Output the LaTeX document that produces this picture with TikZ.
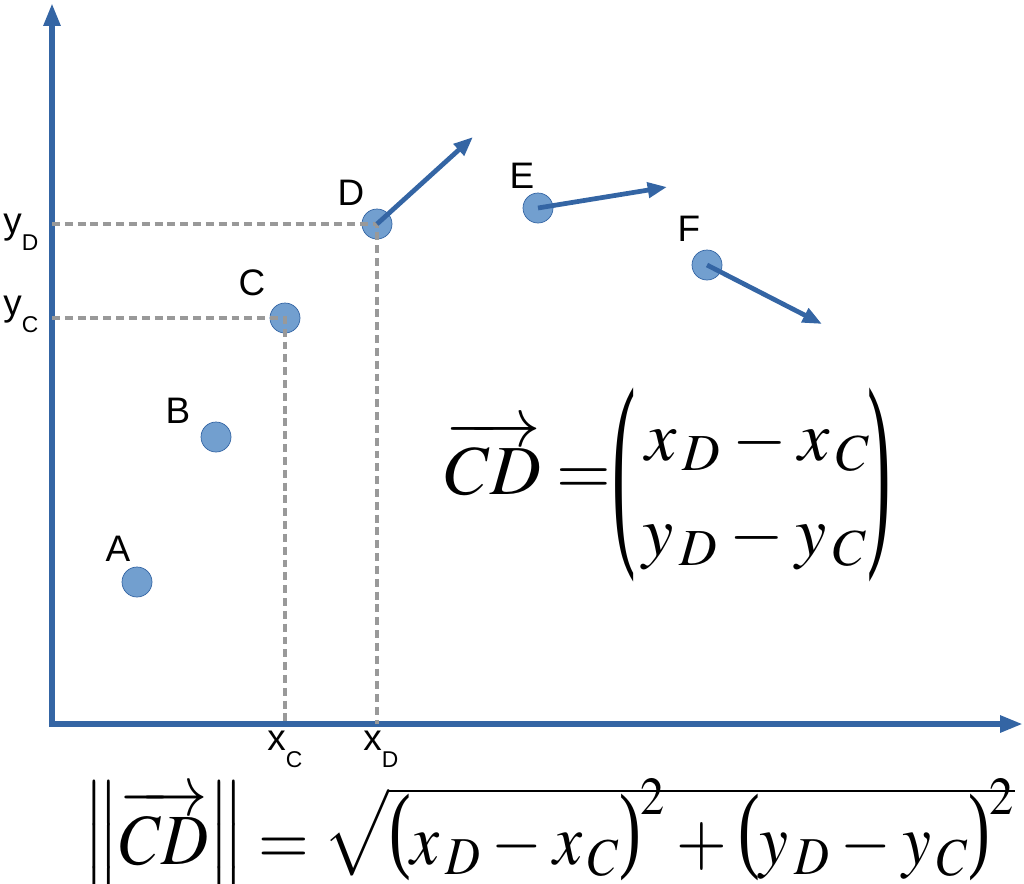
\documentclass[tikz,border=0pt]{standalone}
\usepackage{amsmath}
\usepackage{mathptmx}
\usepackage[no-math]{fontspec}
\setmainfont{Liberation Sans}
\newfontfamily\parfont{Liberation Serif}
\usepackage{tikz}
\usetikzlibrary{arrows.meta}

\definecolor{axisblue}{HTML}{3465A4}
\definecolor{dotblue}{HTML}{729FCF}
\definecolor{guidegray}{HTML}{999999}

\newcommand{\axlab}[2]{#1\raisebox{-0.47em}{\fontsize{13}{13}\selectfont #2}}
\newcommand{\tightmath}{\thickmuskip=4mu \medmuskip=3mu}
\newcommand{\vsub}[2]{#1_{\mkern2mu #2}}
\newcommand{\bparen}[1]{\raisebox{0.05em}{\scalebox{1}[1.33]{\parfont #1}}}

\begin{document}
\begin{tikzpicture}[
		x=0.02cm, y=-0.02cm,
		axis/.style={line width=3.4pt, draw=axisblue, -{Triangle[length=13pt, width=9pt]}},
		move/.style={line width=2.7pt, draw=axisblue, -{Triangle[length=11pt, width=8.5pt]}},
		guide/.style={draw=guidegray, line width=2.1pt, dash pattern=on 4.5pt off 2.8pt},
		pnt/.style={circle, fill=dotblue, draw=axisblue, line width=0.4pt, minimum size=0.6cm, inner sep=0pt},
		lab/.style={font=\fontsize{21}{24}\selectfont, inner sep=0pt},
		eq/.style={font=\fontsize{40}{48}\selectfont\tightmath, inner sep=0pt}
	]
  \useasboundingbox (0,0) rectangle (1024,883);
  % axes
  \coordinate (origin) at (52,724);
  \coordinate (ybase) at (52,727);
  \coordinate (ytop) at (52,3);
  \coordinate (xend) at (1023,724);
  \draw[axis] (ybase) -- (ytop);
  \draw[axis] (origin) -- (xend);
  % points
  \node (pA) [pnt] at (137,582) {};
  \node (pB) [pnt] at (216,437) {};
  \node (pC) [pnt] at (285,318) {};
  \node (pD) [pnt] at (377,224) {};
  \node (pE) [pnt] at (538,208) {};
  \node (pF) [pnt] at (707,265) {};
  \node (lA) [lab] at (118,549) {A};
  \node (lB) [lab] at (178,411) {B};
  \node (lC) [lab] at (252,283) {C};
  \node (lD) [lab] at (351,193) {D};
  \node (lE) [lab] at (522,176) {E};
  \node (lF) [lab] at (689,229) {F};
  % projections of C and D
  \draw[guide] (pC.center -| origin) -- (pC.center) -- (pC.center |- origin);
  \draw[guide] (pD.center -| origin) -- (pD.center) -- (pD.center |- origin);
  \node (yD) [lab, anchor=base west] at (3,233) {\axlab{y}{D}};
  \node (yC) [lab, anchor=base west] at (3,315) {\axlab{y}{C}};
  \node (xC) [lab, anchor=base west] at (267,750) {\axlab{x}{C}};
  \node (xD) [lab, anchor=base west] at (363,750) {\axlab{x}{D}};
  % velocities
  \coordinate (vD) at (473,137);
  \coordinate (vE) at (667,187);
  \coordinate (vF) at (822,324);
  \draw[move] (pD.center) -- (vD);
  \draw[move] (pE.center) -- (vE);
  \draw[move] (pF.center) -- (vF);
  % vector CD
  \node (vecCD) [eq, anchor=base west] at (445,494) {$\overrightarrow{CD}=$};
  \node (lpar) [eq] at (624,485) {\parfont\scalebox{1}[3.05]{(}};
  \node (rpar) [eq] at (879,485) {\parfont\scalebox{1}[3.05]{)}};
  \node (rowx) [eq, anchor=base west] at (645,460) {$\vsub{x}{D}-\vsub{x}{C}$};
  \node (rowy) [eq, anchor=base west] at (642,555) {$\vsub{y}{D}-\vsub{y}{C}$};
  % norm of CD
  \node (normCD) [eq, font=\fontsize{41}{50}\selectfont\tightmath, anchor=base] at (549,864)
    {\scalebox{0.905}[1]{$\left\|\overrightarrow{CD}\right\|=\sqrt{\vrule height 0.9em depth 0.12em width 0pt
      \smash{\bparen{(}\vsub{x}{D}-\vsub{x}{C}\bparen{)}^2+\bparen{(}\vsub{y}{D}-\vsub{y}{C}\bparen{)}^2}}$}};
\end{tikzpicture}
\end{document}
